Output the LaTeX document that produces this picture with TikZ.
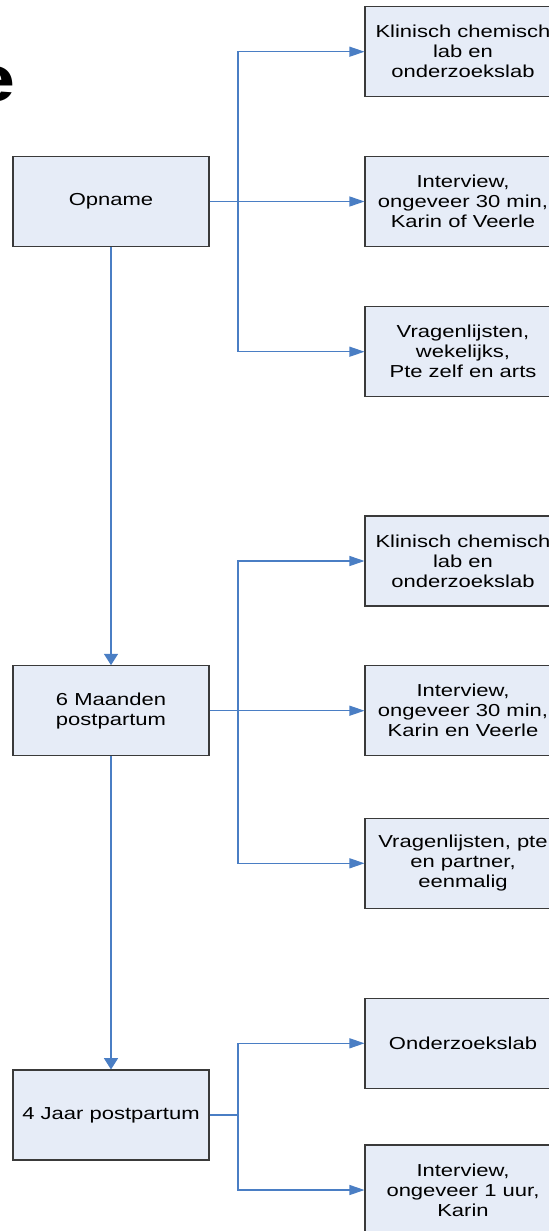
\documentclass[tikz,border=0pt]{standalone}
\usepackage{fontspec}
\setmainfont{Liberation Sans}[FakeStretch=1.27]
\usetikzlibrary{arrows.meta}
\definecolor{boxfill}{HTML}{E6ECF7}
\definecolor{boxline}{HTML}{3A3A3A}
\definecolor{connblue}{HTML}{4A7EC4}
\begin{document}
\begin{tikzpicture}[x=0.75pt,y=-0.75pt,
  box/.style={draw=boxline, line width=0.8pt, fill=boxfill, minimum width=147pt, minimum height=67.5pt, align=center, inner sep=0pt, font=\fontsize{13}{15}\selectfont},
  link/.style={draw=connblue, line width=0.8pt},
  hconn/.style={link, -{Triangle[length=11.25pt,width=7.5pt]}},
  vconn/.style={draw=connblue, line width=1.1pt, -{Triangle[length=8.5pt,width=10.5pt]}}]
\useasboundingbox (0,0) rectangle (549,1231);
\node[anchor=base east, inner sep=0pt, font=\fontsize{49}{49}\selectfont\bfseries] (ttl) at (16,101) {e};
% left boxes
\node[box] (L1) at (111,201.5) {Opname};
\node[box] (L2) at (111,710.7) {6 Maanden\\postpartum};
\node[box] (L3) at (111,1115) {4 Jaar postpartum};
% right boxes
\node[box] (R1) at (463,51.7) {Klinisch chemisch\\lab en\\onderzoekslab};
\node[box] (R2) at (463,201.5) {Interview,\\ongeveer 30 min,\\Karin of Veerle};
\node[box] (R3) at (463,351.7) {Vragenlijsten,\\wekelijks,\\Pte zelf en arts};
\node[box] (R4) at (463,561) {Klinisch chemisch\\lab en\\onderzoekslab};
\node[box] (R5) at (463,710.7) {Interview,\\ongeveer 30 min,\\Karin en Veerle};
\node[box] (R6) at (463,863.3) {Vragenlijsten, pte\\en partner,\\eenmalig};
\node[box] (R7) at (463,1043.3) {Onderzoekslab};
\node[box] (R8) at (463,1190) {Interview,\\ongeveer 1 uur,\\Karin};
% branch points
\coordinate (b1) at (238,201.5);
\coordinate (b2) at (238,710.7);
\coordinate (b3) at (238,1115);
% connectors
\draw[link] (L1.east) -- (b1);
\draw[hconn] (b1) |- (R1.west);
\draw[hconn] (b1) |- (R2.west);
\draw[hconn] (b1) |- (R3.west);
\draw[link] (L2.east) -- (b2);
\draw[hconn] (b2) |- (R4.west);
\draw[hconn] (b2) |- (R5.west);
\draw[hconn] (b2) |- (R6.west);
\draw[link] (L3.east) -- (b3);
\draw[hconn] (b3) |- (R7.west);
\draw[hconn] (b3) |- (R8.west);
\draw[vconn] (L1.south) -- (L2.north);
\draw[vconn] (L2.south) -- (L3.north);
\end{tikzpicture}
\end{document}
